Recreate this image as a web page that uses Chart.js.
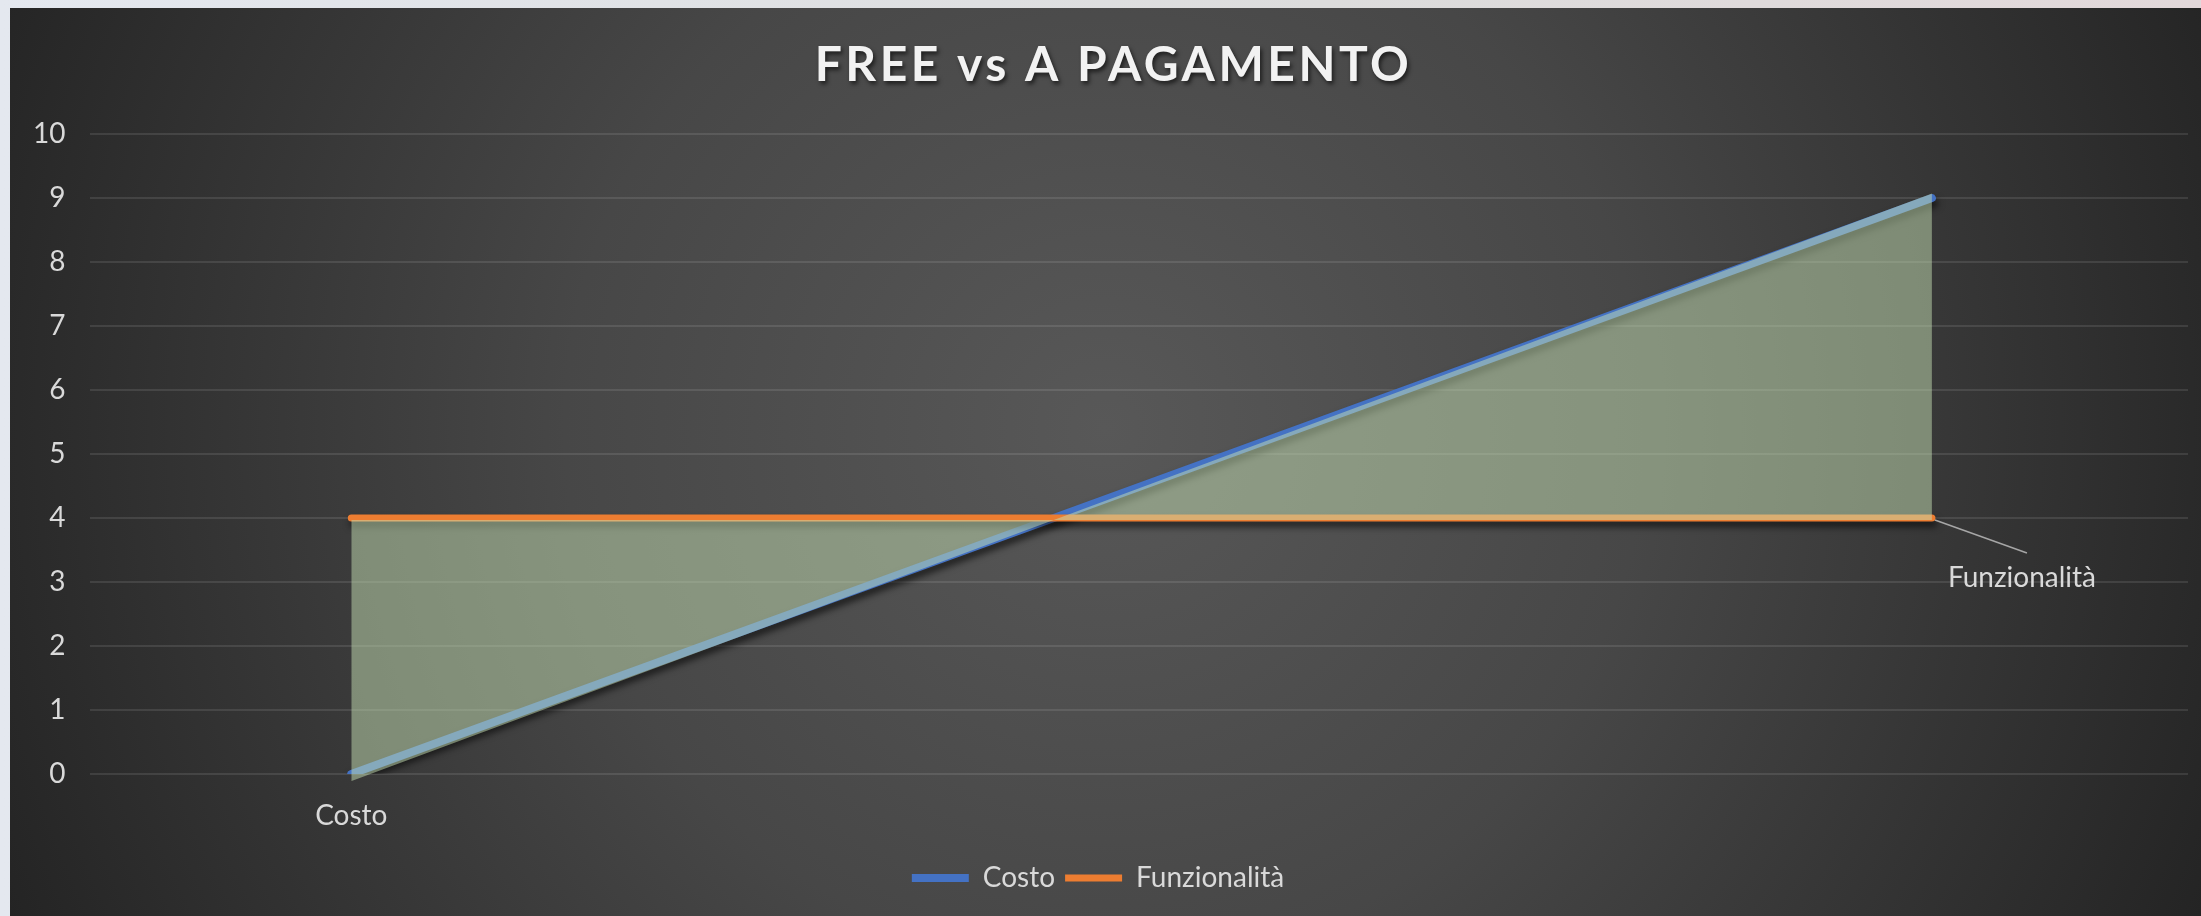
<!DOCTYPE html>
<html lang="it">
<head>
<meta charset="utf-8">
<title>FREE vs A PAGAMENTO</title>
<script src="https://cdn.jsdelivr.net/npm/chart.js@4.4.1/dist/chart.umd.min.js"></script>
<style>
    html, body { margin: 0; padding: 0; }
    body {
        width: 2201px; height: 916px; overflow: hidden;
        background: linear-gradient(to right, #e4e8ef 0%, #dcdcdc 60%, #e2d8da 100%);
    }
    #contenitore {
        position: absolute; left: 10px; top: 8px;
        width: 2191px; height: 908px;
    }
</style>
</head>
<body>
<div id="contenitore"><canvas id="graficoFree"></canvas></div>
<script>
// ─────────────────────────────────────────────────────────────────────────────
// DATI
// ─────────────────────────────────────────────────────────────────────────────
const TITOLO        = 'FREE vs A PAGAMENTO';
const categorie     = ['Free', 'A pagamento'];
const serieNomi     = ['Costo', 'Funzionalità'];
const costo         = [0, 9];
const funzionalita  = [4, 4];
const Y_MIN = 0, Y_MAX = 10, Y_PASSO = 1;

const FONT = 'Lato, "Open Sans", sans-serif';
const GRIGIO_TESTO = '#D9D9D9';
const IDX_AREA = 2;     // dataset che porta solo il riempimento

// ─────────────────────────────────────────────────────────────────────────────
// PLUGIN
// ─────────────────────────────────────────────────────────────────────────────
const sfondo = {
    id: 'sfondo',
    beforeDraw(chart) {
        const { ctx, width, height } = chart;
        const g = ctx.createRadialGradient(1095, 420, 0, 1095, 420, 1200);
        g.addColorStop(0,    '#585858');
        g.addColorStop(0.45, '#474747');
        g.addColorStop(1,    '#242424');
        ctx.save();
        ctx.fillStyle = g;
        ctx.fillRect(0, 0, width, height);
        ctx.restore();
    }
};

// ombra sotto le linee + leggero allargamento dell'area (come in Excel)
const ombraLinee = {
    id: 'ombraLinee',
    beforeDatasetDraw(chart, args) {
        if (args.index === IDX_AREA) return;
        const ctx = chart.ctx;
        ctx.save();
        ctx.shadowColor = 'rgba(0,0,0,0.65)';
        ctx.shadowBlur = 7;
        ctx.shadowOffsetX = 2;
        ctx.shadowOffsetY = 5;
    },
    afterDatasetDraw(chart, args) {
        const ctx = chart.ctx;
        ctx.restore();
        if (args.index === 1) {
            // l'area viene disegnata subito dopo
            const yPerno = chart.scales.y.getPixelForValue(funzionalita[1]);
            ctx.save();
            ctx.translate(0, yPerno + 2);
            ctx.scale(1, 1.02);
            ctx.translate(0, -yPerno);
        }
    }
};

const titolo = {
    id: 'titolo',
    afterDraw(chart) {
        const ctx = chart.ctx;
        ctx.save();
        ctx.font = 'bold 48px ' + FONT;
        ctx.letterSpacing = '3.5px';
        ctx.textAlign = 'center';
        ctx.textBaseline = 'alphabetic';
        ctx.fillStyle = '#F2F2F2';
        ctx.shadowColor = 'rgba(0,0,0,0.6)';
        ctx.shadowBlur = 4;
        ctx.shadowOffsetX = 2;
        ctx.shadowOffsetY = 3;
        ctx.fillText(TITOLO, chart.width / 2 + 8, 73);
        ctx.restore();
    }
};

// etichette dati: "Costo" sotto il primo punto, "Funzionalità" con linea guida
const etichetteDati = {
    id: 'etichetteDati',
    afterDatasetsDraw(chart) {
        const ctx = chart.ctx;
        const p0 = chart.getDatasetMeta(0).data[0];
        const p1 = chart.getDatasetMeta(1).data[1];
        ctx.save();
        ctx.font = '28px ' + FONT;
        ctx.fillStyle = GRIGIO_TESTO;
        ctx.textAlign = 'center';
        ctx.textBaseline = 'middle';
        ctx.fillText(serieNomi[0], p0.x, p0.y + 42);

        ctx.strokeStyle = '#A6A6A6';
        ctx.lineWidth = 1.5;
        ctx.beginPath();
        ctx.moveTo(p1.x + 3, p1.y + 2);
        ctx.lineTo(p1.x + 95, p1.y + 35);
        ctx.stroke();
        ctx.fillText(serieNomi[1], p1.x + 90, p1.y + 60);
        ctx.restore();
    }
};

// ─────────────────────────────────────────────────────────────────────────────
// GRAFICO
// ─────────────────────────────────────────────────────────────────────────────
function punti(valori) {
    return valori.map(function (v, i) { return { x: i, y: v, categoria: categorie[i] }; });
}

const ctx = document.getElementById('graficoFree').getContext('2d');

new Chart(ctx, {
    type: 'line',
    data: {
        datasets: [
            {
                label: serieNomi[0],
                data: punti(costo),
                borderColor: '#4472C4',
                backgroundColor: '#4472C4',
                borderWidth: 8,
                borderCapStyle: 'round',
                pointRadius: 0,
                fill: false,
                order: 3
            },
            {
                label: serieNomi[1],
                data: punti(funzionalita),
                borderColor: '#ED7D31',
                backgroundColor: '#ED7D31',
                borderWidth: 7,
                borderCapStyle: 'round',
                pointRadius: 0,
                fill: false,
                order: 2
            },
            {
                // area tra Costo e Funzionalità, disegnata sopra le linee
                label: 'area',
                data: punti(costo),
                borderColor: 'rgba(0,0,0,0)',
                borderWidth: 0,
                backgroundColor: 'rgba(197, 224, 180, 0.5)',
                pointRadius: 0,
                fill: '-1',
                order: 1
            }
        ]
    },
    options: {
        responsive: true,
        maintainAspectRatio: false,
        animation: false,
        layout: { padding: { top: 126, left: -2, right: 13, bottom: 14 } },
        plugins: {
            title: { display: false },
            tooltip: { enabled: false },
            legend: {
                position: 'bottom',
                labels: {
                    usePointStyle: true,
                    pointStyle: 'line',
                    pointStyleWidth: 57,
                    boxHeight: 28,
                    padding: 10,
                    color: GRIGIO_TESTO,
                    font: { family: FONT, size: 28 },
                    filter: function (item) { return item.datasetIndex !== IDX_AREA; },
                    sort: function (a, b) { return a.datasetIndex - b.datasetIndex; }
                }
            }
        },
        scales: {
            x: {
                type: 'linear',
                min: -0.165,
                max: 1.162,
                ticks: { display: false },
                grid: { display: false },
                border: { display: false },
                afterFit: function (scale) { scale.height = 80; }
            },
            y: {
                min: Y_MIN,
                max: Y_MAX,
                ticks: {
                    stepSize: Y_PASSO,
                    padding: 25,
                    color: GRIGIO_TESTO,
                    font: { family: FONT, size: 28 }
                },
                grid: {
                    color: 'rgba(255,255,255,0.1)',
                    lineWidth: 2,
                    drawTicks: false
                },
                border: { display: false }
            }
        }
    },
    plugins: [sfondo, ombraLinee, titolo, etichetteDati]
});
</script>
</body>
</html>
